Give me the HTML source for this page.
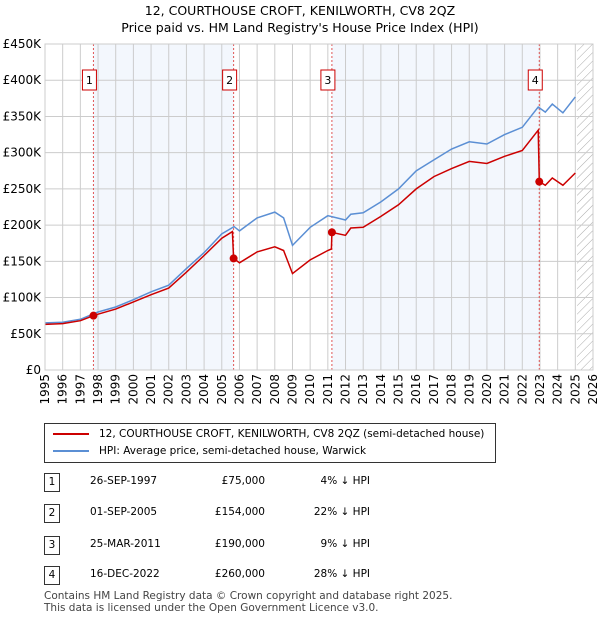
<!DOCTYPE html>
<html><head><meta charset="utf-8"><style>
body{margin:0;background:#fff;font-family:"DejaVu Sans","Liberation Sans",sans-serif;}
#wrap{position:relative;width:600px;height:620px;}
.t{position:absolute;font-size:12px;color:#000;}
</style></head><body><div id="wrap">
<div class="t" style="left:0;width:600px;top:2px;text-align:center;font-size:12.5px;line-height:17px">12, COURTHOUSE CROFT, KENILWORTH, CV8 2QZ<br>Price paid vs. HM Land Registry's House Price Index (HPI)</div>
<svg id="chart" width="600" height="420" style="position:absolute;left:0;top:0;font-family:'DejaVu Sans',sans-serif"></svg>
<div style="position:absolute;left:44px;top:423px;width:450px;height:38px;border:1px solid #333;font-size:10.5px">
<div style="position:absolute;left:8px;top:4px"><span style="display:inline-block;width:36px;border-top:2px solid #cc0000;vertical-align:middle;margin-right:10px"></span>12, COURTHOUSE CROFT, KENILWORTH, CV8 2QZ (semi-detached house)</div>
<div style="position:absolute;left:8px;top:21px"><span style="display:inline-block;width:36px;border-top:2px solid #5b8fd4;vertical-align:middle;margin-right:10px"></span>HPI: Average price, semi-detached house, Warwick</div>
</div>
<div id="tbl"></div>
<div class="t" style="left:44px;top:590px;font-size:10.5px;color:#444;line-height:12px">Contains HM Land Registry data © Crown copyright and database right 2025.<br>This data is licensed under the Open Government Licence v3.0.</div>
</div>
<script>
const hpiYears=[1995,1996,1997,1998,1999,2000,2001,2002,2003,2004,2005,2005.7,2006,2007,2008,2008.5,2009,2010,2011,2012,2012.3,2013,2014,2015,2016,2017,2018,2019,2020,2021,2022,2022.9,2023.3,2023.7,2024.3,2025];
const hpiValues=[65,66,70,80,87,97,108,117,140,162,188,198,192,210,218,210,172,197,213,207,215,217,232,250,275,290,305,315,312,325,335,363,356,367,355,377];
const redYears=[1995,1996,1997,1997.74,1998,1999,2000,2001,2002,2003,2004,2005,2005.6,2005.67,2006,2007,2008,2008.5,2009,2010,2011,2011.2,2011.23,2012,2012.3,2013,2014,2015,2016,2017,2018,2019,2020,2021,2022,2022.9,2022.96,2023.3,2023.7,2024.3,2025];
const redValues=[63,64,68,75,77,84,94,104,113,135,158,182,191,154,148,163,170,165,133,152,165,167,190,186,196,197,212,228,250,267,278,288,285,295,303,331,260,255,265,255,272];
const saleYears=[1997.74,2005.67,2011.23,2022.96];
const saleValues=[75,154,190,260];
const saleLabels=["1","2","3","4"];
const yTicks=[0,50,100,150,200,250,300,350,400,450];
const xTicks=[];for(let y=1995;y<=2026;y++)xTicks.push(y);
const saleDates=["26-SEP-1997","01-SEP-2005","25-MAR-2011","16-DEC-2022"];
const salePrices=["£75,000","£154,000","£190,000","£260,000"];
const saleDiffs=["4% ↓ HPI","22% ↓ HPI","9% ↓ HPI","28% ↓ HPI"];

const L=45,R=593,T=44,B=370;
const X=v=>L+(v-1995)/(2026-1995)*(R-L);
const Y=v=>B-v/450*(B-T);
const svg=document.getElementById('chart');const NS='http://www.w3.org/2000/svg';
function mk(tag,at,name,txt){const e=document.createElementNS(NS,tag);for(const k in at)e.setAttribute(k,at[k]);


if(txt!==undefined)e.textContent=txt;svg.appendChild(e);return e;}
mk('rect',{x:X(saleYears[0]),y:T,width:X(saleYears[1])-X(saleYears[0]),height:B-T,fill:'#f3f7fd'},'shade-band-1');
mk('rect',{x:X(saleYears[2]),y:T,width:X(saleYears[3])-X(saleYears[2]),height:B-T,fill:'#f3f7fd'},'shade-band-2');
const defs=document.createElementNS(NS,'defs');defs.innerHTML='<pattern id="h" width="6" height="6" patternUnits="userSpaceOnUse" patternTransform="rotate(45)"><line x1="0" y1="0" x2="0" y2="6" stroke="#aaa" stroke-width="1"/></pattern>';svg.appendChild(defs);
mk('rect',{x:X(2025.1),y:T,width:R-X(2025.1),height:B-T,fill:'url(#h)'},'future-hatch');
yTicks.forEach(v=>{mk('line',{x1:L,x2:R,y1:Y(v),y2:Y(v),stroke:'#ccc'},'y-gridline');
mk('text',{x:L-4,y:Y(v)+4,'text-anchor':'end','font-size':12,fill:'#000'},'y-tick-label','£'+(v?v+'K':'0'));});
xTicks.forEach(v=>{mk('line',{x1:X(v),x2:X(v),y1:T,y2:B,stroke:'#ccc'},'x-gridline');
mk('text',{x:0,y:0,transform:`translate(${X(v)+4},${B+4}) rotate(-90)`,'text-anchor':'end','font-size':12,fill:'#000'},'x-tick-label',String(v));});
saleYears.forEach((s,i)=>{mk('line',{x1:X(s),x2:X(s),y1:T,y2:B,stroke:'#e05555','stroke-dasharray':'2,2'},'sale-marker-line');
mk('rect',{x:X(s)-11,y:70,width:14,height:20,fill:'#fff',stroke:'#cc0000'},'sale-label-box');
mk('text',{x:X(s)-4,y:84,'text-anchor':'middle','font-size':11,fill:'#000'},'sale-label',saleLabels[i]);});
const pts=(xs,ys)=>xs.map((x,i)=>X(x).toFixed(1)+','+Y(ys[i]).toFixed(1)).join(' ');
mk('polyline',{points:pts(hpiYears,hpiValues),fill:'none',stroke:'#5b8fd4','stroke-width':1.5},'hpi-line');
mk('polyline',{points:pts(redYears,redValues),fill:'none',stroke:'#cc0000','stroke-width':1.5},'price-line');
saleYears.forEach((s,i)=>mk('circle',{cx:X(s),cy:Y(saleValues[i]),r:4,fill:'#cc0000'},'sale-point'));
mk('rect',{x:L,y:T,width:R-L,height:B-T,fill:'none',stroke:'#ccc'},'plot-border');
const tbl=document.getElementById('tbl');const rowsY=[482,513,545,575];
saleLabels.forEach((l,i)=>{const r=document.createElement('div');


r.style.cssText=`position:absolute;left:0;top:${rowsY[i]-9}px;width:600px;height:18px;font-size:10.5px`;
r.innerHTML=`<span style="position:absolute;left:44px;top:0;width:14px;height:17px;border:1px solid #333;text-align:center;line-height:17px">${l}</span><span style="position:absolute;left:90px;top:2px">${saleDates[i]}</span><span style="position:absolute;left:180px;width:85px;text-align:right;top:2px">${salePrices[i]}</span><span style="position:absolute;left:280px;width:90px;text-align:right;top:2px">${saleDiffs[i]}</span>`;
tbl.appendChild(r);});
</script></body></html>
